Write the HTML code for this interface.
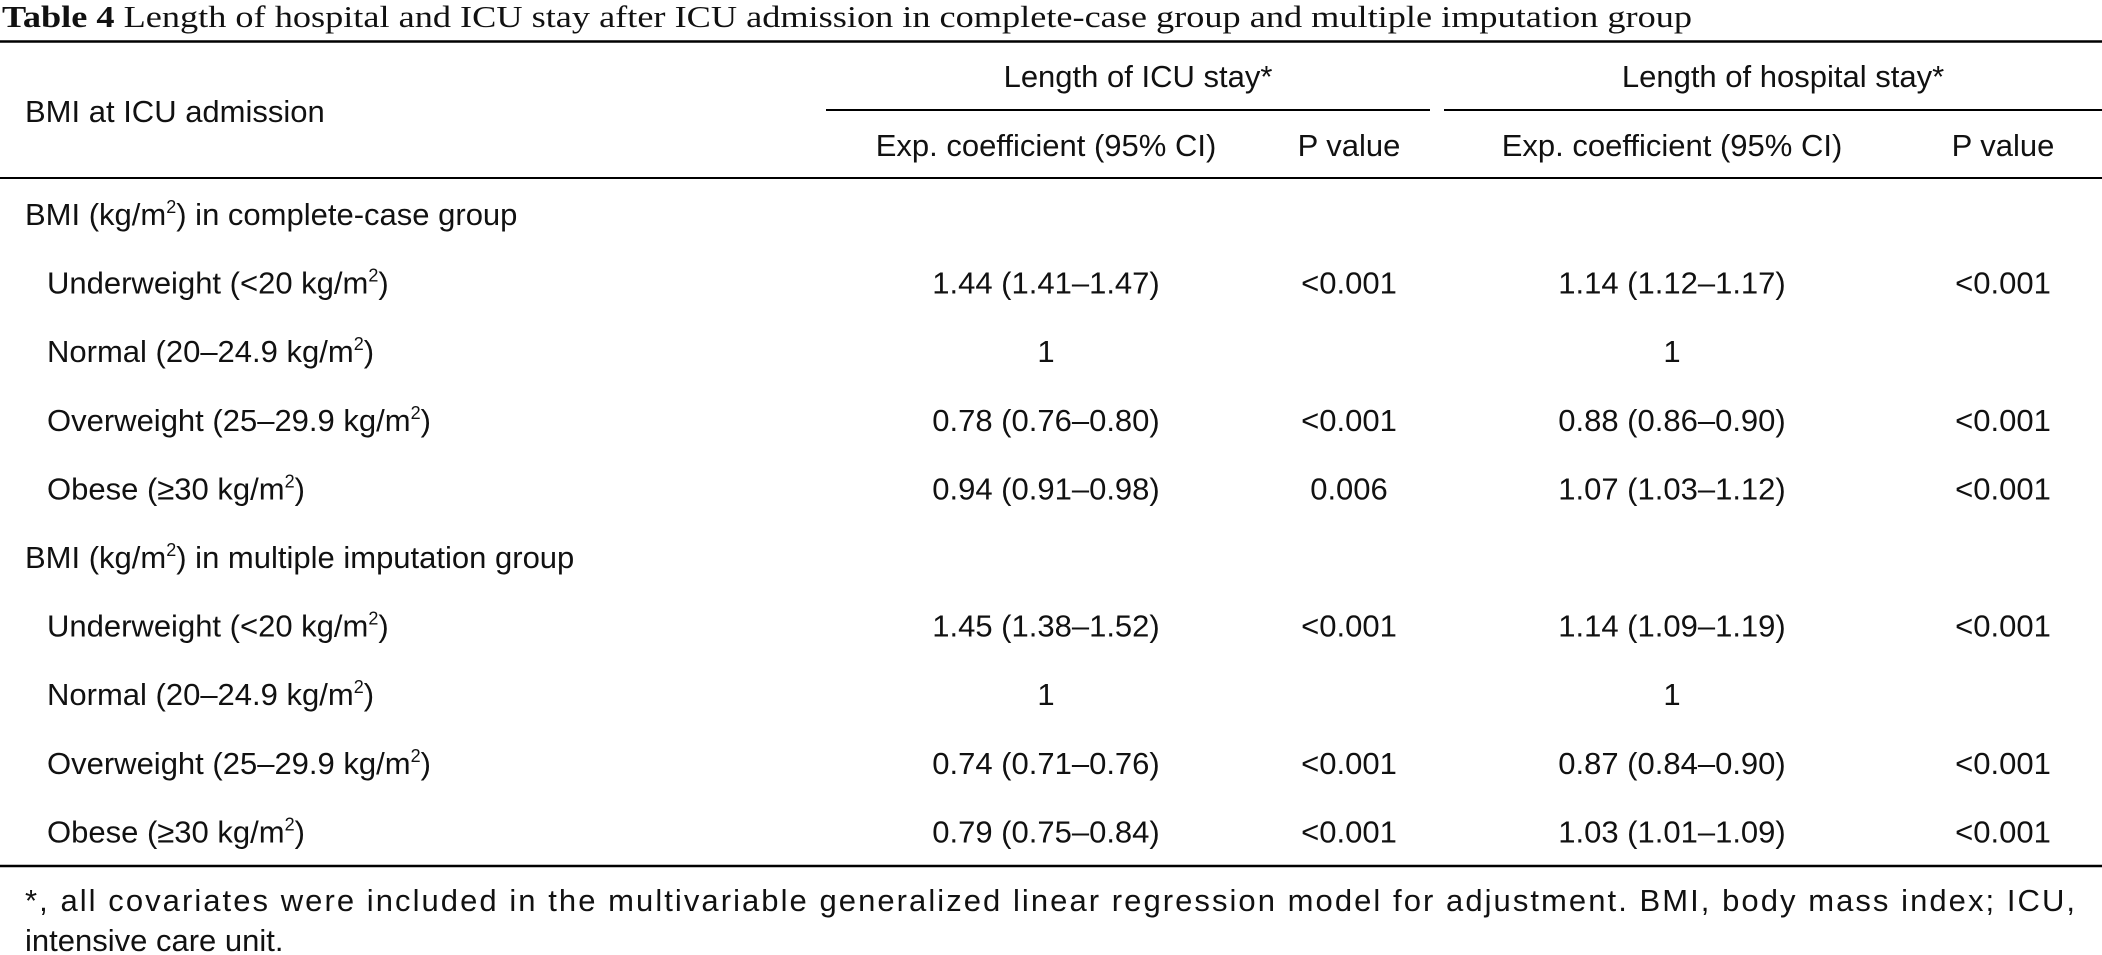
<!DOCTYPE html>
<html><head><meta charset="utf-8"><style>
html,body{margin:0;padding:0;background:#fff;}
svg{display:block;}
.s{font-family:"Liberation Sans",Arial,sans-serif;font-size:31px;fill:#111;}
.t{font-family:"Liberation Serif",serif;font-size:31px;fill:#111;}
</style></head><body>
<svg id="tbl" width="2102" height="955" xmlns="http://www.w3.org/2000/svg">
<text class="t" x="2" y="27" textLength="1690" lengthAdjust="spacingAndGlyphs"><tspan font-weight="bold">Table 4</tspan> Length of hospital and ICU stay after ICU admission in complete-case group and multiple imputation group</text>
<line x1="0" x2="2102" y1="41.5" y2="41.5" stroke="#000" stroke-width="2.5"/>
<text class="s" x="25" y="122">BMI at ICU admission</text>
<text class="s" x="1138" y="87" text-anchor="middle">Length of ICU stay*</text>
<text class="s" x="1783" y="87" text-anchor="middle">Length of hospital stay*</text>
<line x1="826" x2="1430" y1="110" y2="110" stroke="#000" stroke-width="2"/>
<line x1="1444" x2="2102" y1="110" y2="110" stroke="#000" stroke-width="2"/>
<text class="s" x="1046" y="156" text-anchor="middle">Exp. coefficient (95% CI)</text>
<text class="s" x="1349" y="156" text-anchor="middle">P value</text>
<text class="s" x="1672" y="156" text-anchor="middle">Exp. coefficient (95% CI)</text>
<text class="s" x="2003" y="156" text-anchor="middle">P value</text>
<line x1="0" x2="2102" y1="178" y2="178" stroke="#000" stroke-width="2"/>
<line x1="0" x2="2102" y1="866" y2="866" stroke="#000" stroke-width="2.5"/>
<text class="s" x="25" y="911" textLength="2050" lengthAdjust="spacing">*, all covariates were included in the multivariable generalized linear regression model for adjustment. BMI, body mass index; ICU,</text>
<text class="s" x="25" y="951">intensive care unit.</text>
<g id="rows"></g>
</svg>
<script>
const labels = ["BMI (kg/m|) in complete-case group","Underweight (<20 kg/m|)","Normal (20–24.9 kg/m|)","Overweight (25–29.9 kg/m|)","Obese (≥30 kg/m|)","BMI (kg/m|) in multiple imputation group","Underweight (<20 kg/m|)","Normal (20–24.9 kg/m|)","Overweight (25–29.9 kg/m|)","Obese (≥30 kg/m|)"];
const indent = [0,1,1,1,1,0,1,1,1,1];
const icuCoef = ["","1.44 (1.41–1.47)","1","0.78 (0.76–0.80)","0.94 (0.91–0.98)","","1.45 (1.38–1.52)","1","0.74 (0.71–0.76)","0.79 (0.75–0.84)"];
const icuP = ["","<0.001","","<0.001","0.006","","<0.001","","<0.001","<0.001"];
const hospCoef = ["","1.14 (1.12–1.17)","1","0.88 (0.86–0.90)","1.07 (1.03–1.12)","","1.14 (1.09–1.19)","1","0.87 (0.84–0.90)","1.03 (1.01–1.09)"];
const hospP = ["","<0.001","","<0.001","<0.001","","<0.001","","<0.001","<0.001"];
const NS="http://www.w3.org/2000/svg";
const g=document.getElementById('rows');
function rowY(i){return 225+i*68.6;}
function addText(x,y,anchor,str,name){
  const t=document.createElementNS(NS,'text');
  t.setAttribute('class','s');
  t.setAttribute('x',x);t.setAttribute('y',y);
  t.setAttribute('text-anchor',anchor);
  
  
  const parts=str.split('|');
  parts.forEach((p,k)=>{
    if(k>0){const s=document.createElementNS(NS,'tspan');s.setAttribute('font-size','18');s.setAttribute('dy','-12');s.textContent='2';t.appendChild(s);
      const r=document.createElementNS(NS,'tspan');r.setAttribute('dy','12');r.textContent=p;t.appendChild(r);}
    else t.appendChild(document.createTextNode(p));
  });
  g.appendChild(t);
}
labels.forEach((l,i)=>{
  const y=rowY(i);
  addText(indent[i]?47:25,y,'start',l,indent[i]?'category-label':'group-label');
  if(icuCoef[i])addText(1046,y,'middle',icuCoef[i],'icu-coefficient');
  if(icuP[i])addText(1349,y,'middle',icuP[i],'icu-p-value');
  if(hospCoef[i])addText(1672,y,'middle',hospCoef[i],'hospital-coefficient');
  if(hospP[i])addText(2003,y,'middle',hospP[i],'hospital-p-value');
});
</script>
</body></html>
